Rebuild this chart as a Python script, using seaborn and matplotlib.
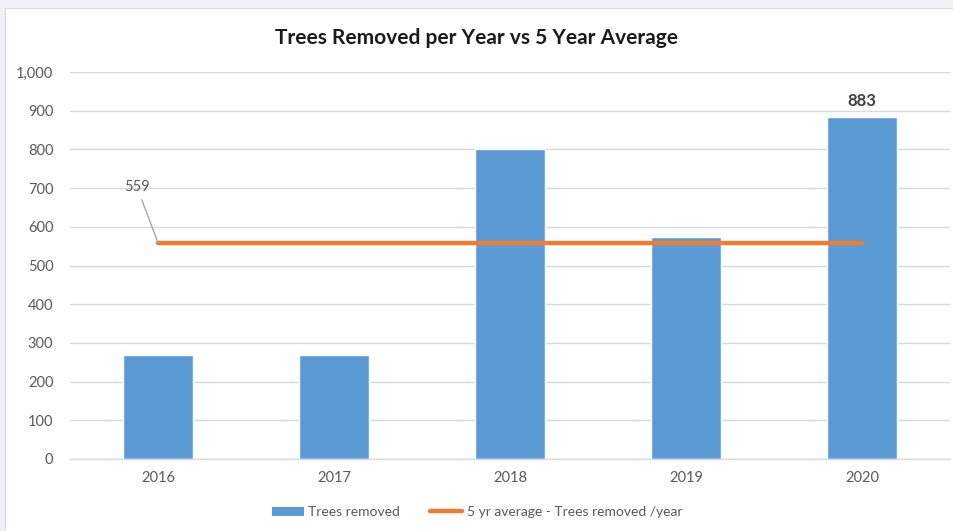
import numpy as np
import pandas as pd
import matplotlib
matplotlib.use("Agg")
import matplotlib.pyplot as plt
from matplotlib.patches import Rectangle
from matplotlib.lines import Line2D
from matplotlib.ticker import FuncFormatter
import seaborn as sns

# Data
years = ["2016", "2017", "2018", "2019", "2020"]
trees_removed = [270, 268, 800, 574, 883]
avg_value = int(round(np.mean(trees_removed)))
y_ticks = [0, 100, 200, 300, 400, 500, 600, 700, 800, 900, 1000]

bar_color = "#5B9BD5"
line_color = "#ED7D31"
grid_color = "#D9D9D9"
text_color = "#595959"

sns.set_theme(style="white")
plt.rcParams["font.family"] = ["Lato", "DejaVu Sans"]

fig = plt.figure(figsize=(9.54, 5.31), dpi=100)
fig.patch.set_facecolor("#EEF1F5")
# white chart area inside a light frame
fig.patches.append(Rectangle((5 / 954, 0), 1, 1 - 8 / 531, transform=fig.transFigure,
                             facecolor="white", edgecolor="#D6DCE4", linewidth=0.8,
                             zorder=-5))

ax = fig.add_axes([70 / 954, 1 - 459 / 531, 880 / 954, 387 / 531])
ax.set_zorder(2)
ax.set_facecolor("none")

df = pd.DataFrame({"year": years, "removed": trees_removed})
sns.barplot(data=df, x="year", y="removed", order=years, color=bar_color,
            saturation=1, width=0.4, ax=ax, zorder=2)

sns.lineplot(x=np.arange(len(years)), y=[avg_value] * len(years), color=line_color,
             linewidth=3.2, ax=ax, zorder=3)

ax.set_ylim(0, 1000)
ax.set_xlim(-0.5, len(years) - 0.5)
ax.set_yticks(y_ticks)
ax.yaxis.set_major_formatter(FuncFormatter(lambda v, p: f"{int(v):,}"))
ax.yaxis.grid(True, color=grid_color, linewidth=1)
ax.set_axisbelow(True)
for s in ["top", "right", "left"]:
    ax.spines[s].set_visible(False)
ax.spines["bottom"].set_color(grid_color)
ax.spines["bottom"].set_linewidth(1)
ax.tick_params(axis="both", length=0, colors=text_color, labelsize=10.5)
ax.tick_params(axis="y", pad=12)
ax.tick_params(axis="x", pad=9)
ax.set_xlabel("")
ax.set_ylabel("")

# value label for latest year
ax.annotate(f"{trees_removed[-1]}", xy=(len(years) - 1, trees_removed[-1]),
            xytext=(0, 6), textcoords="offset points", ha="center", va="bottom",
            fontsize=12, fontweight="bold", color="#404040")

# average callout with leader line
ax.annotate(f"{avg_value}", xy=(0, avg_value), xytext=(-0.12, 685),
            ha="center", va="bottom", fontsize=10.5, color=text_color,
            arrowprops=dict(arrowstyle="-", color="#A6A6A6", lw=1,
                            shrinkA=2, shrinkB=0))

fig.text(0.5, 1 - 38 / 531, "Trees Removed per Year vs 5 Year Average",
         ha="center", va="center", fontsize=15, fontweight="bold", color="#1a1a1a")

handles = [Rectangle((0, 0), 1, 1, facecolor=bar_color, edgecolor="none"),
           Line2D([0], [0], color=line_color, linewidth=3.2)]
fig.legend(handles, ["Trees removed", "5 yr average - Trees removed /year"],
           loc="center", bbox_to_anchor=(0.5, 1 - 512 / 531), ncol=2, frameon=False,
           fontsize=10, labelcolor=text_color, handlelength=2.3, handleheight=0.6,
           columnspacing=2.2, handletextpad=0.3)

fig.savefig("out.png", dpi=100, facecolor=fig.get_facecolor())
